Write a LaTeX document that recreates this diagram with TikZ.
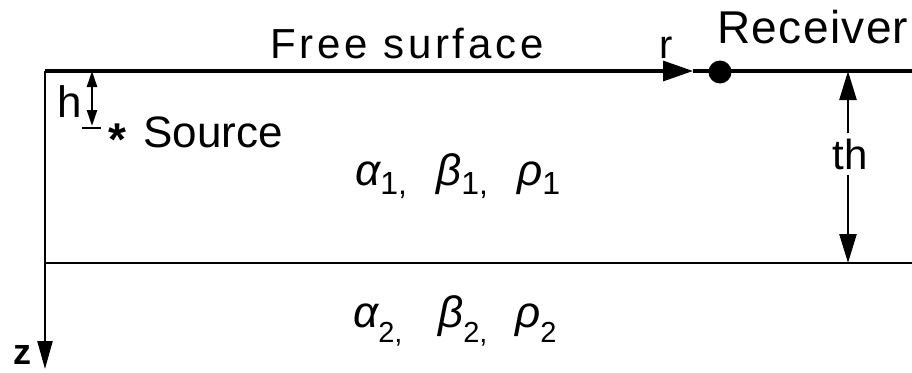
\documentclass[tikz,border=0pt]{standalone}
\usepackage{fontspec}
\setmainfont{Liberation Sans}
\usetikzlibrary{arrows.meta}
\tikzset{
  lbl/.style={inner sep=0pt, anchor=base west},
  heavy/.style={line width=3.2pt},
  thinl/.style={line width=2.4pt},
  bigtip/.style={-{Triangle[length=29pt,width=17pt]}},
  smalltip/.style={{Triangle[length=16pt,width=10pt]}-{Triangle[length=16pt,width=10pt]}},
}
\newcommand{\gsymA}[2]{{\fontsize{44}{50}\selectfont\itshape #1}\raisebox{-9pt}{\fontsize{32}{30}\selectfont #2}}
\newcommand{\gsymB}[2]{{\fontsize{44}{50}\selectfont\itshape #1}\raisebox{-15pt}{\fontsize{29}{30}\selectfont #2}}
\begin{document}
\begin{tikzpicture}[x=1pt,y=-1pt]
\useasboundingbox (0,0) rectangle (912,372);
% frame coordinates
\coordinate (TL) at (45,71);
\coordinate (TR) at (912,71);
\coordinate (IL) at (45,263);
\coordinate (IR) at (912,263);
\coordinate (Z) at (45,369);
\coordinate (rtip) at (693,71);
% top line with r arrow
\draw[heavy, -{Triangle[length=30pt,width=20pt]}] (TL) -- (rtip);
\draw[heavy] (rtip) -- (TR);
% axis
\draw[thinl, -{Triangle[length=28pt,width=15pt]}] (TL) -- (Z);
% interface
\draw[thinl] (IL) -- (IR);
% receiver
\node[circle, fill, minimum size=23pt, inner sep=0pt] (rec) at (720,72) {};
% labels
\node[lbl, font=\fontsize{42}{50}\selectfont\addfontfeature{LetterSpace=9}] (fs) at (270,58) {Free surface};
\node[lbl, font=\fontsize{40}{50}\selectfont] (r) at (659,58) {r};
\node[lbl, font=\fontsize{46}{50}\selectfont\addfontfeature{LetterSpace=3}] (recl) at (717,43) {Receiver};
\node[lbl, font=\fontsize{36}{40}\selectfont\bfseries] (z) at (13,364) {z};
% h dimension
\coordinate (htop) at (92,71);
\coordinate (hbot) at (92,126);
\coordinate (ht1) at (82,128);
\coordinate (ht2) at (101,128);
\draw[thinl, smalltip] (htop) -- (hbot);
\draw[thinl] (ht1) -- (ht2);
\node[lbl, font=\fontsize{44}{50}\selectfont] (h) at (57,117) {h};
% source
\node[inner sep=0pt, anchor=base, font=\fontsize{46}{50}\selectfont\bfseries] (star) at (117,155) {*};
\node[lbl, font=\fontsize{44}{50}\selectfont] (src) at (143,147) {Source};
% th dimension
\coordinate (thtop) at (848,71);
\coordinate (thbot) at (848,263);
\node[inner sep=0pt, minimum height=41pt, font=\fontsize{42}{50}\selectfont] (th) at (850,154) {th};
\draw[thinl, bigtip] (th.north -| thtop) -- (thtop);
\draw[thinl, bigtip] (th.south -| thbot) -- (thbot);
% layer parameters
\node[lbl] (a1) at (355,185) {\gsymA{α}{1,}};
\node[lbl] (b1) at (436,185) {\gsymA{β}{1,}};
\node[lbl] (p1) at (517,185) {\gsymA{ρ}{1}};
\node[lbl] (a2) at (353,327) {\gsymB{α}{2,}};
\node[lbl] (b2) at (438,327) {\gsymB{β}{2,}};
\node[lbl] (p2) at (515,327) {\gsymB{ρ}{2}};
\end{tikzpicture}
\end{document}
